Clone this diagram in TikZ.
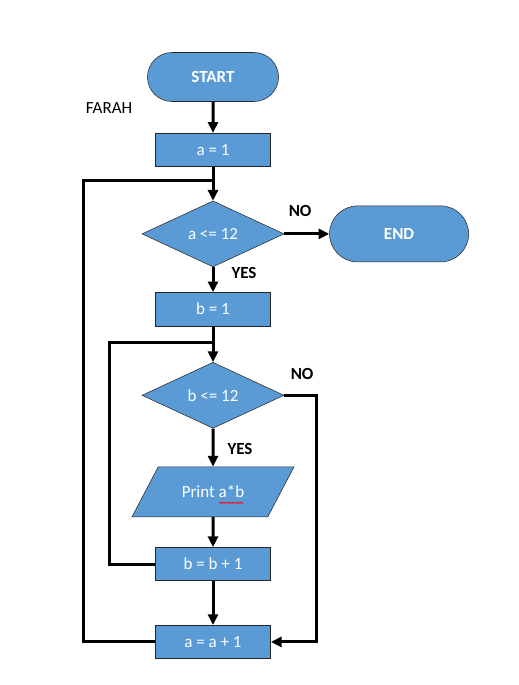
\documentclass[tikz,border=0pt]{standalone}
\usepackage{fontspec}
\setmainfont{Carlito}
\usetikzlibrary{shapes.geometric, shapes.misc, arrows.meta, positioning, calc, decorations.pathmorphing}

\definecolor{boxblue}{HTML}{5B9BD5}
\newcommand{\flowfont}{\fontsize{12.75}{15}\selectfont}

\begin{document}
\begin{tikzpicture}[
    node distance=25pt,
    term/.style={rounded rectangle, draw=black!85, fill=boxblue, text=white, font=\flowfont\bfseries, minimum width=105pt, minimum height=36.75pt},
    proc/.style={rectangle, draw=black!85, fill=boxblue, text=white, font=\flowfont, minimum width=86.5pt, minimum height=25pt},
    cond/.style={diamond, draw=black!85, fill=boxblue, text=white, font=\flowfont, inner sep=0pt, minimum width=106.5pt, minimum height=49.5pt},
    io/.style={trapezium, trapezium left angle=51, trapezium right angle=129, trapezium stretches=true, draw=black!85, fill=boxblue, text=white, font=\flowfont, minimum width=122pt, minimum height=37.5pt},
    arrow/.style={-{Triangle[length=8pt, width=7.5pt]}, line width=2.25pt},
    line/.style={line width=2.25pt},
    lbl/.style={font=\flowfont\bfseries, inner sep=0pt},
]

\useasboundingbox (0,0) rectangle (388.5pt,-513.75pt);

\node[term] (start) at (159.75pt,-57.75pt) {START};
\node[font=\flowfont, inner sep=0pt] (farah) at (81.75pt,-81.4pt) {FARAH};
\node[proc, below=23.25pt of start] (a1) {a = 1};
\node[cond, below=25.5pt of a1] (cond1) {a <= 12};
\node[term, right=33.75pt of cond1, minimum width=111pt, minimum height=42pt] (end) {END};
\node[proc, below=18.75pt of cond1] (b1) {b = 1};
\node[cond, below=27pt of b1] (cond2) {b <= 12};
\node[io, below=28.5pt of cond2] (print) {Print a*b};
\node[proc, below=22.5pt of print] (binc) {b = b + 1};
\node[proc, below=33pt of binc] (ainc) {a = a + 1};

\coordinate (join1) at ($(a1.south)+(0,-10.5pt)$);
\coordinate (join2) at ($(b1.south)+(0,-12pt)$);

% main flow
\draw[arrow] (start) -- (a1);
\draw[arrow] (a1) -- (cond1);
\draw[arrow] (cond1) -- node[lbl, anchor=south west, pos=0, xshift=2.25pt, yshift=12pt] {NO} (end);
\draw[arrow] (cond1) -- node[lbl, anchor=west, pos=0.22, xshift=12.75pt] {YES} (b1);
\draw[arrow] (b1) -- (cond2);
\draw[arrow] (cond2) -- node[lbl, anchor=west, pos=0.54, xshift=9.75pt] {YES} (print);
\draw[arrow] (print) -- (binc);
\draw[arrow] (binc) -- (ainc);

% loops
\draw[line] (binc.west) -- ++(-34.5pt,0) |- (join2);
\draw[line] (ainc.west) -- ++(-54pt,0) |- (join1);
\draw[arrow] (cond2.east) -- node[lbl, anchor=south west, pos=0, xshift=3.75pt, yshift=10.5pt] {NO} ++(24pt,0) |- (ainc.east);

% spell-check mark
\draw[red, line width=0.5pt, decorate, decoration={snake, amplitude=0.5pt, segment length=2pt}]
    ($(print.center)+(4.5pt,-8.25pt)$) -- ($(print.center)+(23pt,-8.25pt)$);

\end{tikzpicture}
\end{document}
